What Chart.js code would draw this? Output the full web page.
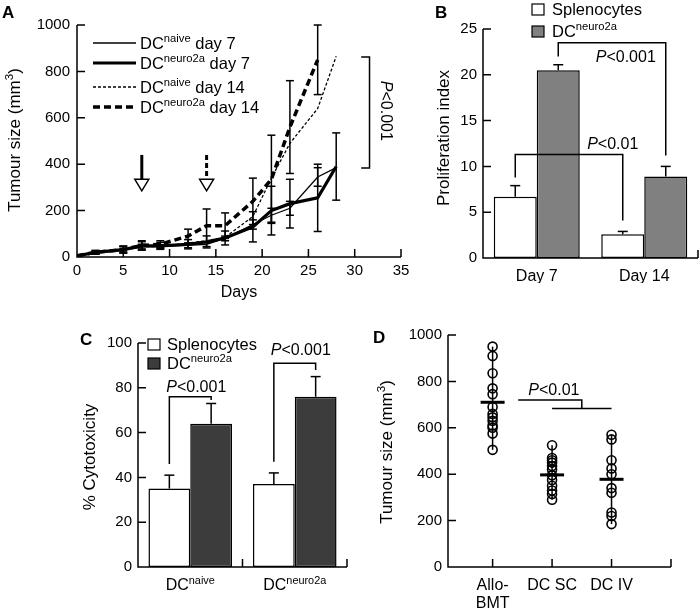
<!DOCTYPE html>
<html>
<head>
<meta charset="utf-8">
<script src="https://cdn.jsdelivr.net/npm/chart.js@4.4.0/dist/chart.umd.min.js"></script>
<style>
body { margin: 0; background: #fff; }
#wrap { position: relative; width: 700px; height: 614px; }
canvas { position: absolute; left: 0; top: 0; }
</style>
</head>
<body>
<div id="wrap">
<canvas id="chartA" width="700" height="614"></canvas>
<canvas id="chartB" width="700" height="614"></canvas>
<canvas id="chartC" width="700" height="614"></canvas>
<canvas id="chartD" width="700" height="614"></canvas>
</div>
<script>
// panel A - tumour growth curves
const aDays = [0, 2, 5, 7, 9, 12, 14, 16, 19, 21, 23, 26, 28];
const naiveDay7 = [5, 18, 30, 45, 45, 50, 55, 80, 140, 180, 210, 345, 385];
const neuroDay7 = [5, 20, 32, 48, 48, 55, 65, 82, 130, 200, 230, 255, 390];
const naiveDay14 = [5, 18, 30, 45, 45, 60, 70, 85, 175, 340, 490, 640, 865];
const neuroDay14 = [5, 20, 32, 50, 55, 90, 135, 135, 240, 335, 560, 850, null];
const naiveDay7Err = [0, 5, 8, 10, 8, 10, 10, 10, 20, 30, 30, 40, 0];
const neuroDay7Err = [0, 8, 15, 18, 15, 20, 26, 30, 65, 105, 105, 145, 145];
const neuroDay14Err = [0, 8, 15, 20, 15, 30, 72, 55, 100, 190, 200, 150, null];

// panel B - proliferation
const bGroups = ['Day 7', 'Day 14'];
const bSpleno = [6.7, 2.6];
const bSplenoErr = [1.2, 0.3];
const bDC = [20.5, 8.9];
const bDCErr = [0.6, 1.1];

// panel C - cytotoxicity
const cGroups = ['naive', 'neuro2a'];
const cSpleno = [35, 37];
const cSplenoErr = [6, 5];
const cDC = [64, 76];
const cDCErr = [9, 9];

// panel D - tumour size per mouse
const dGroups = [['Allo-', 'BMT'], ['DC SC'], ['DC IV']];
const dAllo = [950, 910, 835, 770, 745, 690, 660, 645, 630, 610, 600, 575, 505];
const dSC = [525, 470, 460, 450, 435, 420, 395, 375, 350, 330, 315, 290];
const dIV = [570, 550, 460, 425, 400, 340, 320, 235, 220, 185];
const dMeans = [710, 397, 378];

const FONT = "'Liberation Sans', Arial, Helvetica, sans-serif";
Chart.defaults.font.family = FONT;
Chart.defaults.color = '#000';
Chart.defaults.animation = false;

function fnt(size, style) { return (style || '') + ' ' + size + 'px ' + FONT; }
const plain = v => String(v);

// text with superscript parts: parts = [[text, isSup], ...], y is baseline
function richText(ctx, x, y, parts, size, align) {
    let w = 0;
    parts.forEach(p => { ctx.font = fnt(p[1] ? size * 0.68 : size); w += ctx.measureText(p[0]).width; });
    let cx = align === 'center' ? x - w / 2 : x;
    ctx.textAlign = 'left';
    ctx.textBaseline = 'alphabetic';
    parts.forEach(p => {
        ctx.font = fnt(p[1] ? size * 0.68 : size);
        ctx.fillText(p[0], cx, p[1] ? y - size * 0.4 : y);
        cx += ctx.measureText(p[0]).width;
    });
}

// "P<0.001" with italic P, centred at x
function pText(ctx, x, y, rest, size) {
    ctx.font = fnt(size, 'italic');
    const w1 = ctx.measureText('P').width;
    ctx.font = fnt(size);
    const w2 = ctx.measureText(rest).width;
    const sx = x - (w1 + w2) / 2;
    ctx.textAlign = 'left';
    ctx.textBaseline = 'alphabetic';
    ctx.font = fnt(size, 'italic');
    ctx.fillText('P', sx, y);
    ctx.font = fnt(size);
    ctx.fillText(rest, sx + w1, y);
}

function vTitle(ctx, x, y, parts, size) {
    ctx.save();
    ctx.translate(x, y);
    ctx.rotate(-Math.PI / 2);
    richText(ctx, 0, 0, parts, size, 'center');
    ctx.restore();
}

function panelLetter(ctx, letter, x, y) {
    ctx.font = fnt(17, 'bold');
    ctx.textAlign = 'left';
    ctx.textBaseline = 'alphabetic';
    ctx.fillText(letter, x, y);
}

function drawAxes(c, xTicks) {
    const ctx = c.ctx, a = c.chartArea, ys = c.scales.y;
    ctx.save();
    ctx.strokeStyle = '#000';
    ctx.lineWidth = 1.5;
    ctx.beginPath();
    ctx.moveTo(a.left, a.top);
    ctx.lineTo(a.left, a.bottom);
    ctx.lineTo(a.right, a.bottom);
    ys.ticks.forEach(t => {
        const y = ys.getPixelForValue(t.value);
        ctx.moveTo(a.left, y);
        ctx.lineTo(a.left + 8, y);
    });
    xTicks.forEach(x => { ctx.moveTo(x, a.bottom); ctx.lineTo(x, a.bottom - 8); });
    ctx.stroke();
    ctx.restore();
}

function path(ctx, pts, width, dash) {
    ctx.save();
    ctx.strokeStyle = '#000';
    ctx.lineWidth = width || 1.5;
    ctx.setLineDash(dash || []);
    ctx.beginPath();
    pts.forEach((p, i) => i ? ctx.lineTo(p[0], p[1]) : ctx.moveTo(p[0], p[1]));
    ctx.stroke();
    ctx.restore();
}

function errBar(ctx, x, yTop, yBot, cap) {
    path(ctx, [[x, yTop], [x, yBot]], 1.5);
    path(ctx, [[x - cap, yTop], [x + cap, yTop]], 1.5);
    path(ctx, [[x - cap, yBot], [x + cap, yBot]], 1.5);
}

function barErrors(c, dsIndex, vals, errs) {
    const ys = c.scales.y;
    c.getDatasetMeta(dsIndex).data.forEach((el, i) => {
        const top = ys.getPixelForValue(vals[i] + errs[i]);
        path(c.ctx, [[el.x, el.y], [el.x, top]], 1.5);
        path(c.ctx, [[el.x - 5, top], [el.x + 5, top]], 1.5);
    });
}

function pts(xs, ys) {
    return xs.map((x, i) => ({ x: x, y: ys[i] })).filter(p => p.y !== null);
}

const hidden = { display: false, drawTicks: false };
const noBorder = { display: false };

// ---------- A ----------
const lineStyles = [
    { label: 'naive', data: naiveDay7, w: 1.3, dash: [] },
    { label: 'neuro2a', data: neuroDay7, w: 3.2, dash: [] },
    { label: 'naive', data: naiveDay14, w: 1.3, dash: [3, 2] },
    { label: 'neuro2a', data: neuroDay14, w: 3.5, dash: [7, 4] }
];
const legendDays = [' day 7', ' day 7', ' day 14', ' day 14'];

new Chart(document.getElementById('chartA'), {
    type: 'line',
    data: {
        datasets: lineStyles.map(s => ({
            data: pts(aDays, s.data),
            borderColor: '#000',
            borderWidth: s.w,
            borderDash: s.dash,
            pointRadius: 0,
            tension: 0,
            fill: false
        }))
    },
    options: {
        responsive: false,
        layout: { padding: { left: 37, right: 299, top: 25, bottom: 337 } },
        plugins: { legend: { display: false }, tooltip: { enabled: false } },
        scales: {
            x: {
                type: 'linear', min: 0, max: 35,
                ticks: { stepSize: 5, padding: 5, font: { size: 15 }, callback: plain },
                grid: hidden, border: noBorder,
                afterFit: s => { s.height = 20; }
            },
            y: {
                min: 0, max: 1000,
                ticks: { stepSize: 200, padding: 7, font: { size: 15 }, callback: plain },
                grid: hidden, border: noBorder,
                afterFit: s => { s.width = 40; }
            }
        }
    },
    plugins: [{
        id: 'panelA',
        afterDatasetsDraw(c) {
            const ctx = c.ctx, xs = c.scales.x, ys = c.scales.y;
            [[neuroDay7, neuroDay7Err], [neuroDay14, neuroDay14Err], [naiveDay7, naiveDay7Err]].forEach(pair => {
                aDays.forEach((d, i) => {
                    const v = pair[0][i], e = pair[1][i];
                    if (v === null || !e) return;
                    errBar(ctx, xs.getPixelForValue(d), ys.getPixelForValue(v + e), ys.getPixelForValue(Math.max(v - e, 0)), 4);
                });
            });
        },
        afterDraw(c) {
            const ctx = c.ctx, xs = c.scales.x, ys = c.scales.y, a = c.chartArea;
            drawAxes(c, xs.ticks.filter(t => t.value > 0).map(t => xs.getPixelForValue(t.value)));
            ctx.fillStyle = '#000';
            panelLetter(ctx, 'A', 2, 18);
            vTitle(ctx, 20, 140, [['Tumour size (mm', false], ['3', true], [')', false]], 17);
            richText(ctx, (a.left + a.right) / 2, 297, [['Days', false]], 16, 'center');

            // legend
            const rows = [43, 63, 87, 107];
            lineStyles.forEach((s, i) => {
                path(ctx, [[93, rows[i]], [136, rows[i]]], s.w, s.dash);
                richText(ctx, 140, rows[i] + 6, [['DC', false], [s.label, true], [legendDays[i], false]], 16.5, 'left');
            });

            // vaccination arrows
            [[7, []], [14, [5, 3]]].forEach(arw => {
                const x = xs.getPixelForValue(arw[0]);
                const yTop = ys.getPixelForValue(440), yHead = ys.getPixelForValue(335), yTip = ys.getPixelForValue(285);
                path(ctx, [[x, yTop], [x, yHead]], 3, arw[1]);
                ctx.save();
                ctx.beginPath();
                ctx.moveTo(x - 7, yHead);
                ctx.lineTo(x + 7, yHead);
                ctx.lineTo(x, yTip);
                ctx.closePath();
                ctx.fillStyle = '#fff';
                ctx.fill();
                ctx.lineWidth = 1.5;
                ctx.strokeStyle = '#000';
                ctx.stroke();
                ctx.restore();
            });

            // significance bracket
            const bx1 = xs.getPixelForValue(30.7), bx2 = xs.getPixelForValue(31.6);
            const by1 = ys.getPixelForValue(862), by2 = ys.getPixelForValue(384);
            path(ctx, [[bx1, by1], [bx2, by1], [bx2, by2], [bx1, by2]], 1.5);
            ctx.save();
            ctx.translate(xs.getPixelForValue(32.8), ys.getPixelForValue(630));
            ctx.rotate(Math.PI / 2);
            pText(ctx, 0, 0, '<0.001', 16);
            ctx.restore();
        }
    }]
});

// ---------- B ----------
new Chart(document.getElementById('chartB'), {
    type: 'bar',
    data: {
        labels: bGroups,
        datasets: [
            { data: bSpleno, backgroundColor: '#fff', borderColor: '#000', borderWidth: 1.5, borderSkipped: false },
            { data: bDC, backgroundColor: '#808080', borderColor: '#000', borderWidth: 1.5, borderSkipped: false }
        ]
    },
    options: {
        responsive: false,
        layout: { padding: { left: 453, right: 2, top: 29, bottom: 331 } },
        plugins: { legend: { display: false }, tooltip: { enabled: false } },
        datasets: { bar: { categoryPercentage: 0.8, barPercentage: 1.0 } },
        scales: {
            x: {
                ticks: { padding: 9, font: { size: 16 } },
                grid: hidden, border: noBorder,
                afterFit: s => { s.height = 25; }
            },
            y: {
                min: 0, max: 25,
                ticks: { stepSize: 5, padding: 6, font: { size: 15 }, callback: plain },
                grid: hidden, border: noBorder,
                afterFit: s => { s.width = 30; }
            }
        }
    },
    plugins: [{
        id: 'panelB',
        afterDatasetsDraw(c) {
            barErrors(c, 0, bSpleno, bSplenoErr);
            barErrors(c, 1, bDC, bDCErr);
        },
        afterDraw(c) {
            const ctx = c.ctx, ys = c.scales.y, a = c.chartArea;
            drawAxes(c, [a.right]);
            ctx.fillStyle = '#000';
            panelLetter(ctx, 'B', 435, 18);
            vTitle(ctx, 449, 138, [['Proliferation index', false]], 17);

            // legend
            [['#fff', 'Splenocytes', null, 4], ['#808080', 'DC', 'neuro2a', 26]].forEach(l => {
                ctx.fillStyle = l[0];
                ctx.fillRect(532, l[3], 12, 11);
                ctx.strokeStyle = '#000';
                ctx.lineWidth = 1.2;
                ctx.strokeRect(532, l[3], 12, 11);
                ctx.fillStyle = '#000';
                const parts = [[l[1], false]];
                if (l[2]) parts.push([l[2], true]);
                richText(ctx, 552, l[3] + 11, parts, 16.5, 'left');
            });

            const s = c.getDatasetMeta(0).data, d = c.getDatasetMeta(1).data;
            // DC day 7 vs DC day 14
            path(ctx, [[d[0].x, ys.getPixelForValue(22.0)], [d[0].x, ys.getPixelForValue(23.5)],
                [d[1].x, ys.getPixelForValue(23.5)], [d[1].x, ys.getPixelForValue(11.2)]], 1.5);
            pText(ctx, d[1].x - 40, ys.getPixelForValue(21.4), '<0.001', 16);
            // splenocytes day 7 vs day 14
            path(ctx, [[s[0].x, ys.getPixelForValue(8.8)], [s[0].x, ys.getPixelForValue(11.3)],
                [s[1].x, ys.getPixelForValue(11.3)], [s[1].x, ys.getPixelForValue(4.1)]], 1.5);
            pText(ctx, s[1].x - 10, ys.getPixelForValue(11.9), '<0.01', 16);
        }
    }]
});

// ---------- C ----------
new Chart(document.getElementById('chartC'), {
    type: 'bar',
    data: {
        labels: cGroups,
        datasets: [
            { data: cSpleno, backgroundColor: '#fff', borderColor: '#000', borderWidth: 1.5, borderSkipped: false },
            { data: cDC, backgroundColor: '#3c3c3c', borderColor: '#000', borderWidth: 1.5, borderSkipped: false }
        ]
    },
    options: {
        responsive: false,
        layout: { padding: { left: 108, right: 353, top: 343, bottom: 22 } },
        plugins: { legend: { display: false }, tooltip: { enabled: false } },
        datasets: { bar: { categoryPercentage: 0.8, barPercentage: 1.0 } },
        scales: {
            x: {
                ticks: { display: false },
                grid: hidden, border: noBorder,
                afterFit: s => { s.height = 25; }
            },
            y: {
                min: 0, max: 100,
                ticks: { stepSize: 20, padding: 6, font: { size: 15 }, callback: plain },
                grid: hidden, border: noBorder,
                afterFit: s => { s.width = 30; }
            }
        }
    },
    plugins: [{
        id: 'panelC',
        afterDatasetsDraw(c) {
            barErrors(c, 0, cSpleno, cSplenoErr);
            barErrors(c, 1, cDC, cDCErr);
        },
        afterDraw(c) {
            const ctx = c.ctx, xs = c.scales.x, ys = c.scales.y, a = c.chartArea;
            const mid = (xs.getPixelForValue(0) + xs.getPixelForValue(1)) / 2;
            drawAxes(c, [mid, a.right]);
            ctx.fillStyle = '#000';
            panelLetter(ctx, 'C', 80, 345);
            vTitle(ctx, 95, 457, [['% Cytotoxicity', false]], 17);
            cGroups.forEach((g, i) => {
                richText(ctx, xs.getPixelForValue(i), a.bottom + 23, [['DC', false], [g, true]], 16, 'center');
            });

            // legend
            [['#fff', 'Splenocytes', null, 339], ['#3c3c3c', 'DC', 'neuro2a', 358]].forEach(l => {
                ctx.fillStyle = l[0];
                ctx.fillRect(148, l[3], 12, 11);
                ctx.strokeStyle = '#000';
                ctx.lineWidth = 1.2;
                ctx.strokeRect(148, l[3], 12, 11);
                ctx.fillStyle = '#000';
                const parts = [[l[1], false]];
                if (l[2]) parts.push([l[2], true]);
                richText(ctx, 167, l[3] + 11, parts, 16.5, 'left');
            });

            const s = c.getDatasetMeta(0).data, d = c.getDatasetMeta(1).data;
            const brackets = [[46, 76, 74.5, 81], [47, 91, 88, 97.5]];
            brackets.forEach((b, i) => {
                path(ctx, [[s[i].x, ys.getPixelForValue(b[0])], [s[i].x, ys.getPixelForValue(b[1])],
                    [d[i].x, ys.getPixelForValue(b[1])], [d[i].x, ys.getPixelForValue(b[2])]], 1.5);
                pText(ctx, (s[i].x + d[i].x) / 2 + 6, ys.getPixelForValue(b[3]) + 6, '<0.001', 16);
            });
        }
    }]
});

// ---------- D ----------
const dSets = [dAllo, dSC, dIV];
new Chart(document.getElementById('chartD'), {
    type: 'scatter',
    data: {
        datasets: dSets.map((vals, g) => ({
            data: vals.map(v => ({ x: g + 1, y: v })),
            pointStyle: 'circle',
            pointRadius: 4.5,
            pointBorderWidth: 1.6,
            borderColor: '#000',
            backgroundColor: 'rgba(0,0,0,0)'
        }))
    },
    options: {
        responsive: false,
        layout: { padding: { left: 408, right: 29, top: 335, bottom: 22 } },
        plugins: { legend: { display: false }, tooltip: { enabled: false } },
        scales: {
            x: {
                type: 'linear', min: 0.25, max: 4,
                ticks: { display: false },
                grid: hidden, border: noBorder,
                afterFit: s => { s.height = 25; }
            },
            y: {
                min: 0, max: 1000,
                ticks: { stepSize: 200, padding: 6, font: { size: 15 }, callback: plain },
                grid: hidden, border: noBorder,
                afterFit: s => { s.width = 40; }
            }
        }
    },
    plugins: [{
        id: 'panelD',
        beforeDatasetsDraw(c) {
            const ctx = c.ctx, xs = c.scales.x, ys = c.scales.y;
            dSets.forEach((vals, g) => {
                const x = xs.getPixelForValue(g + 1);
                path(ctx, [[x, ys.getPixelForValue(Math.max(...vals))], [x, ys.getPixelForValue(Math.min(...vals))]], 1.5);
            });
        },
        afterDatasetsDraw(c) {
            const ctx = c.ctx, xs = c.scales.x, ys = c.scales.y;
            dMeans.forEach((m, g) => {
                const x = xs.getPixelForValue(g + 1), y = ys.getPixelForValue(m);
                path(ctx, [[x - 12, y], [x + 12, y]], 3);
            });
        },
        afterDraw(c) {
            const ctx = c.ctx, xs = c.scales.x, ys = c.scales.y, a = c.chartArea;
            drawAxes(c, [1, 2, 3].map(v => xs.getPixelForValue(v)).concat([a.right]));
            ctx.fillStyle = '#000';
            panelLetter(ctx, 'D', 373, 343);
            vTitle(ctx, 392, 452, [['Tumour size (mm', false], ['3', true], [')', false]], 17);
            dGroups.forEach((lines, g) => {
                lines.forEach((t, k) => {
                    richText(ctx, xs.getPixelForValue(g + 1), a.bottom + 23 + k * 18, [[t, false]], 16, 'center');
                });
            });

            path(ctx, [[xs.getPixelForValue(1.43), ys.getPixelForValue(720)], [xs.getPixelForValue(2.5), ys.getPixelForValue(720)],
                [xs.getPixelForValue(2.5), ys.getPixelForValue(683)]], 1.5);
            path(ctx, [[xs.getPixelForValue(2), ys.getPixelForValue(683)], [xs.getPixelForValue(3), ys.getPixelForValue(683)]], 1.5);
            pText(ctx, xs.getPixelForValue(2.03), ys.getPixelForValue(740), '<0.01', 16);
        }
    }]
});
</script>
</body>
</html>
